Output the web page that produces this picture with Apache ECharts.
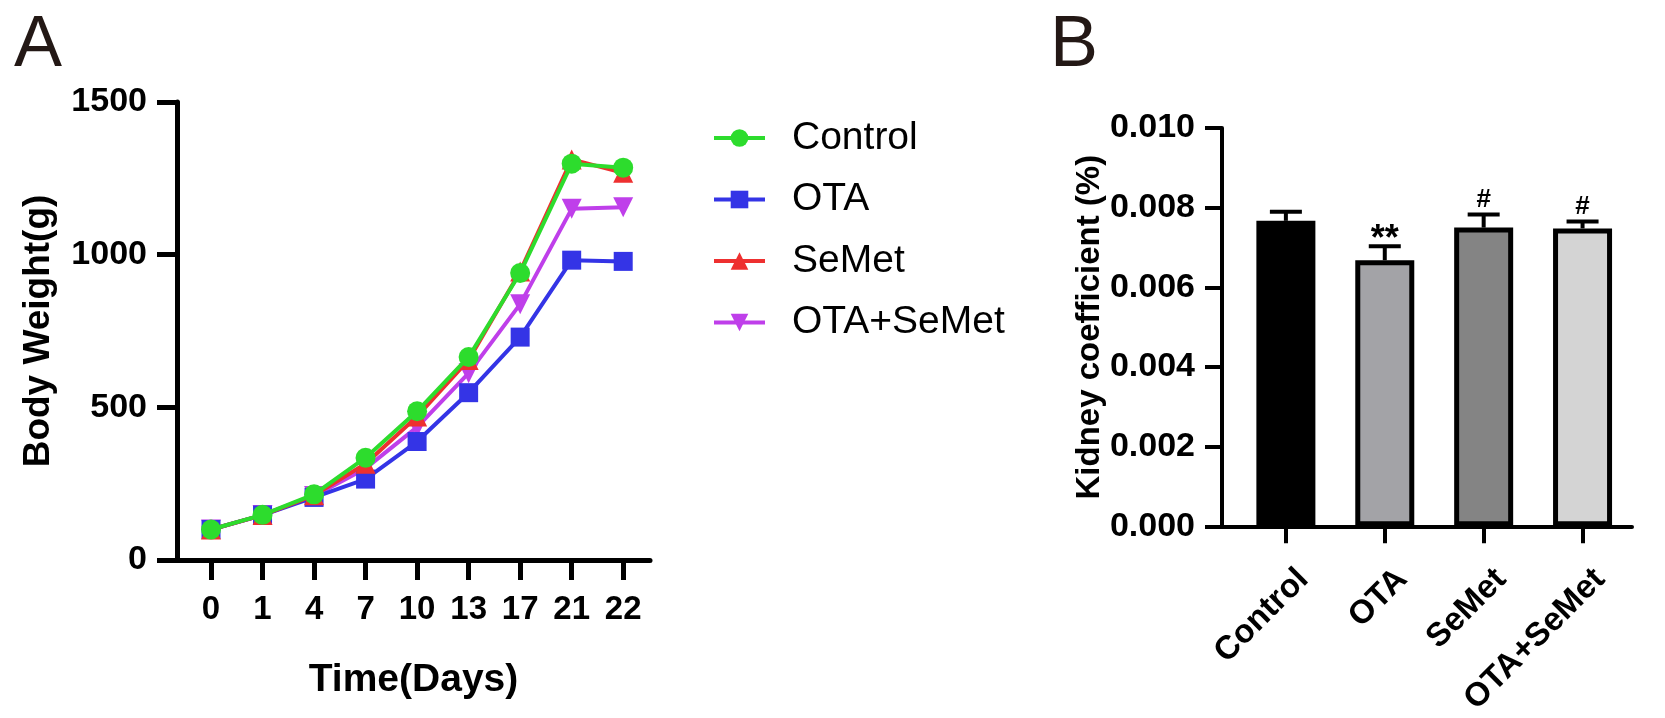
<!DOCTYPE html>
<html><head><meta charset="utf-8">
<script src="https://cdn.jsdelivr.net/npm/echarts@6/dist/echarts.min.js"></script>
<style>html,body{margin:0;padding:0;background:#fff}#c{width:1665px;height:718px}</style>
</head><body><div id="c"></div>
<script>
// ---- Panel A data ----
const days = ['0','1','4','7','10','13','17','21','22'];
const controlW  = [100,148,215,335,487,665,940,1298,1285];
const otaW      = [100,147,205,265,388,548,730,982,978];
const semetW    = [100,147,212,315,470,655,945,1312,1268];
const otaSemetW = [100,147,210,300,435,612,838,1150,1155];
const weightTicks = [0,500,1000,1500];

// ---- Panel B data ----
const groups = ['Control','OTA','SeMet','OTA+SeMet'];
const kidneyMean = [0.00767,0.00668,0.00750,0.00748];
const kidneyErr  = [0.00023,0.00035,0.00033,0.00017];
const sigMarks   = ['','**','#','#'];
const kidneyTicks = [0,0.002,0.004,0.006,0.008,0.010];

const FONT = 'Arial, "Liberation Sans", sans-serif';
const chart = echarts.init(document.getElementById('c'), null, {renderer:'canvas'});

const dayIdx = days.map((d,i)=>i);
const grpIdx = groups.map((g,i)=>i);
const toPts = arr => arr.map((v,i)=>[i,v]);

const lineDefs = [
  {name:'OTA+SeMet', data:otaSemetW, color:'#bf3fea', symbol:'triangle', rot:180, z:2, size:20},
  {name:'OTA',       data:otaW,      color:'#3434e6', symbol:'rect',     rot:0,   z:3, size:19},
  {name:'SeMet',     data:semetW,    color:'#ee3030', symbol:'triangle', rot:0,   z:4, size:20},
  {name:'Control',   data:controlW,  color:'#2ddc2d', symbol:'circle',   rot:0,   z:5, size:20}
];

const barColors = ['#000000','#a3a3a7','#848484','#d4d4d4'];

const axisTitle = {fontFamily:FONT, fontWeight:'bold', color:'#000'};

const option = {
  backgroundColor:'#fff',
  animation:false,
  graphic:[
    {type:'text', left:14, top:10, style:{text:'A', font:'72px '+FONT, fill:'#231815'}},
    {type:'text', left:1050, top:10, style:{text:'B', font:'72px '+FONT, fill:'#231815'}}
  ],
  legend:{
    orient:'vertical', left:707, top:113,
    itemWidth:51, itemHeight:22, itemGap:21.5,
    lineStyle:{width:4},
    data:['Control','OTA','SeMet','OTA+SeMet'],
    textStyle:{fontFamily:FONT, fontSize:39, color:'#000', lineHeight:40, padding:[0,0,0,22]}
  },
  grid:[
    {left:177, top:102, width:473, height:458},
    {left:1222, top:128, width:410, height:404}
  ],
  xAxis:[
    {gridIndex:0, type:'value', min:-0.66, max:8.52,
     axisLine:{onZero:false, lineStyle:{color:'#000', width:5}},
     axisTick:{customValues:dayIdx, length:20, lineStyle:{color:'#000', width:5}},
     axisLabel:{customValues:dayIdx, formatter:v=>days[v], margin:33, fontSize:33, fontWeight:'bold', fontFamily:FONT, color:'#000'},
     splitLine:{show:false},
     name:'Time(Days)', nameLocation:'middle', nameGap:101,
     nameTextStyle:Object.assign({fontSize:39}, axisTitle)},
    {gridIndex:1, type:'value', min:-0.646, max:3.5,
     axisLine:{onZero:false, lineStyle:{color:'#000', width:4}},
     axisTick:{customValues:grpIdx, length:17, lineStyle:{color:'#000', width:4}},
     axisLabel:{customValues:grpIdx, formatter:v=>groups[v], rotate:45, margin:42, verticalAlign:'top',
                padding:[0,-8,0,0], fontSize:33, fontWeight:'bold', fontFamily:FONT, color:'#000'},
     splitLine:{show:false}}
  ],
  yAxis:[
    {gridIndex:0, type:'value', min:weightTicks[0], max:weightTicks[weightTicks.length-1], interval:500,
     axisLine:{show:true, onZero:false, lineStyle:{color:'#000', width:5}},
     axisTick:{show:true, length:20, lineStyle:{color:'#000', width:5}},
     axisLabel:{margin:30, fontSize:34, fontWeight:'bold', fontFamily:FONT, color:'#000', formatter:v=>String(v)},
     splitLine:{show:false},
     name:'Body Weight(g)', nameLocation:'middle', nameGap:120, nameRotate:90,
     nameTextStyle:Object.assign({fontSize:37}, axisTitle)},
    {gridIndex:1, type:'value', min:kidneyTicks[0], max:kidneyTicks[kidneyTicks.length-1], interval:0.002,
     axisLine:{show:true, onZero:false, lineStyle:{color:'#000', width:4}},
     axisTick:{show:true, length:17, lineStyle:{color:'#000', width:4}},
     axisLabel:{margin:27, fontSize:34, fontWeight:'bold', fontFamily:FONT, color:'#000', formatter:v=>v.toFixed(3)},
     splitLine:{show:false},
     name:'Kidney coefficient (%)', nameLocation:'middle', nameGap:116, nameRotate:90,
     nameTextStyle:Object.assign({fontSize:33}, axisTitle)}
  ],
  series:[]
};

lineDefs.forEach(d=>{
  option.series.push({
    type:'line', name:d.name, xAxisIndex:0, yAxisIndex:0, z:d.z,
    data:toPts(d.data), symbol:d.symbol, symbolSize:d.size, symbolRotate:d.rot,
    showAllSymbol:true,
    lineStyle:{color:d.color, width:4},
    itemStyle:{color:d.color, borderWidth:0}
  });
});

option.series.push({
  type:'bar', name:'kidney', xAxisIndex:1, yAxisIndex:1, barWidth:59, z:2,
  data:kidneyMean.map((v,i)=>({value:[i,v], itemStyle:{color:barColors[i], borderColor:'#000', borderWidth:5}})),
  legendHoverLink:false
});

option.series.push({
  type:'custom', name:'err', xAxisIndex:1, yAxisIndex:1, z:3,
  data:kidneyMean.map((v,i)=>[i,v,kidneyErr[i]]),
  renderItem:(params, api)=>{
    const i = api.value(0), m = api.value(1), e = api.value(2);
    const base = api.coord([i,m]);
    const top = api.coord([i,m+e]);
    const cap = 16;
    const ch = [
      {type:'line', shape:{x1:base[0],y1:base[1],x2:top[0],y2:top[1]}, style:{stroke:'#000', lineWidth:4}},
      {type:'line', shape:{x1:top[0]-cap,y1:top[1],x2:top[0]+cap,y2:top[1]}, style:{stroke:'#000', lineWidth:4}}
    ];
    const s = sigMarks[i];
    if (s) {
      const isStar = s.indexOf('*')>=0;
      ch.push({type:'text', x:top[0], y:top[1]-(isStar?6:15),
        style:{text:s, align:'center', verticalAlign:'middle', font:'bold '+(isStar?36:26)+'px '+FONT, fill:'#000'}});
    }
    return {type:'group', children:ch};
  }
});

chart.setOption(option);
</script>
</body></html>
